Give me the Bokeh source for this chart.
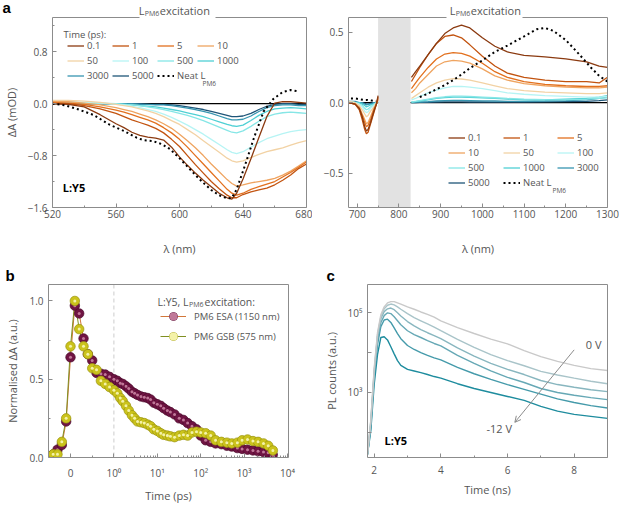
import numpy as np
from bokeh.plotting import figure
from bokeh.layouts import row, column
from bokeh.models import (Range1d, FixedTicker, LinearAxis, Label, Legend, LegendItem,
                          Span, BoxAnnotation, Arrow, OpenHead)
from bokeh.embed import file_html
from bokeh.resources import INLINE

FONT = "Open Sans"
TXT = "#555555"
FRAME = "#8c8c8c"

# ---------------- panel a (left): visible TA spectra ----------------
vis_wl = [520, 530, 540, 550, 560, 565, 570, 575, 580, 585, 590, 595, 600, 605, 610,
          615, 620, 625, 630, 633, 636, 640, 645, 650, 655, 660, 665, 670, 675, 680]
vis_0p1 = [0.00, -0.01, -0.05, -0.17, -0.31, -0.37, -0.44, -0.49, -0.515, -0.53, -0.56, -0.67, -0.82, -0.95, -1.07,
           -1.18, -1.28, -1.38, -1.45, -1.47, -1.38, -1.16, -0.85, -0.52, -0.20, 0.01, 0.03, 0.03, 0.02, 0.01]
vis_1 = [0.00, 0.00, -0.03, -0.08, -0.15, -0.20, -0.25, -0.29, -0.33, -0.38, -0.45, -0.55, -0.66, -0.80, -0.94,
         -1.07, -1.20, -1.31, -1.41, -1.45, -1.45, -1.40, -1.36, -1.33, -1.30, -1.25, -1.18, -1.10, -1.00, -0.93]
vis_5 = [0.02, 0.01, -0.01, -0.05, -0.10, -0.13, -0.17, -0.21, -0.25, -0.30, -0.37, -0.45, -0.55, -0.67, -0.80,
         -0.93, -1.06, -1.19, -1.32, -1.38, -1.41, -1.38, -1.32, -1.28, -1.24, -1.20, -1.13, -1.06, -0.98, -0.90]
vis_10 = [0.03, 0.03, 0.01, -0.02, -0.06, -0.09, -0.12, -0.16, -0.20, -0.25, -0.31, -0.38, -0.47, -0.57, -0.68,
          -0.80, -0.93, -1.05, -1.17, -1.23, -1.27, -1.25, -1.22, -1.20, -1.18, -1.15, -1.10, -1.04, -0.96, -0.88]
vis_50 = [0.05, 0.05, 0.04, 0.02, -0.01, -0.03, -0.05, -0.08, -0.11, -0.15, -0.20, -0.26, -0.32, -0.40, -0.48,
          -0.57, -0.66, -0.75, -0.84, -0.88, -0.90, -0.88, -0.83, -0.78, -0.74, -0.71, -0.68, -0.64, -0.60, -0.57]
vis_100 = [0.03, 0.03, 0.02, 0.01, -0.01, -0.02, -0.04, -0.06, -0.09, -0.12, -0.16, -0.21, -0.27, -0.33, -0.40,
           -0.47, -0.55, -0.63, -0.71, -0.75, -0.77, -0.74, -0.67, -0.60, -0.54, -0.50, -0.46, -0.43, -0.41, -0.40]
vis_500 = [0.02, 0.02, 0.01, 0.01, 0.00, -0.01, -0.02, -0.03, -0.05, -0.07, -0.09, -0.12, -0.15, -0.18, -0.22,
           -0.26, -0.31, -0.36, -0.41, -0.44, -0.45, -0.42, -0.35, -0.27, -0.20, -0.16, -0.14, -0.13, -0.14, -0.15]
vis_1000 = [0.01, 0.01, 0.01, 0.00, 0.00, -0.01, -0.02, -0.03, -0.04, -0.05, -0.07, -0.09, -0.11, -0.14, -0.17,
            -0.20, -0.24, -0.28, -0.32, -0.34, -0.35, -0.33, -0.26, -0.18, -0.12, -0.08, -0.07, -0.06, -0.07, -0.08]
vis_3000 = [0.00, 0.01, 0.00, 0.00, 0.00, 0.00, 0.00, -0.01, -0.01, -0.02, -0.02, -0.03, -0.05, -0.07, -0.09,
            -0.12, -0.15, -0.19, -0.23, -0.25, -0.25, -0.24, -0.19, -0.12, -0.06, -0.03, -0.02, -0.02, -0.03, -0.03]
vis_5000 = [0.00, 0.00, 0.00, 0.00, 0.00, 0.00, 0.00, 0.00, -0.01, -0.01, -0.01, -0.02, -0.03, -0.05, -0.07,
            -0.09, -0.12, -0.15, -0.18, -0.20, -0.20, -0.19, -0.15, -0.09, -0.04, -0.01, 0.00, 0.00, -0.01, -0.01]
vis_neat_wl = [520, 528, 536, 546, 556, 565, 573, 577, 583, 589, 594, 600, 605, 610, 615, 620,
               625, 630, 633, 636, 641, 647, 653, 659, 665, 670, 675]
vis_neat = [0.0, -0.025, -0.086, -0.175, -0.325, -0.42, -0.525, -0.56, -0.575, -0.625, -0.70, -0.84, -0.97,
            -1.10, -1.22, -1.33, -1.41, -1.46, -1.45, -1.32, -0.97, -0.52, -0.12, 0.07, 0.18, 0.21, 0.19]

# ---------------- panel a (right): NIR TA spectra ----------------
nir_wl_short = [680, 695, 705, 712, 718, 722, 726, 732, 740, 746, 750]
nir_wl_long = [830, 840, 850, 870, 890, 910, 930, 950, 970, 1000, 1030, 1060, 1100, 1150, 1200, 1250, 1280, 1300]
nir_0p1_s = [0.0, -0.01, -0.04, -0.10, -0.17, -0.20, -0.19, -0.14, -0.06, -0.01, 0.05]
nir_0p1_l = [0.18, 0.22, 0.26, 0.34, 0.42, 0.49, 0.53, 0.55, 0.53, 0.46, 0.40, 0.36, 0.335, 0.325, 0.31, 0.29, 0.26, 0.25]
nir_1_s = [0.0, -0.01, -0.05, -0.12, -0.19, -0.22, -0.21, -0.15, -0.07, -0.01, 0.04]
nir_1_l = [0.15, 0.20, 0.25, 0.34, 0.42, 0.47, 0.48, 0.46, 0.41, 0.33, 0.26, 0.21, 0.18, 0.16, 0.15, 0.15, 0.14, 0.18]
nir_5_s = [0.0, -0.01, -0.04, -0.09, -0.14, -0.17, -0.16, -0.12, -0.05, -0.01, 0.03]
nir_5_l = [0.10, 0.14, 0.18, 0.25, 0.31, 0.345, 0.355, 0.35, 0.33, 0.28, 0.22, 0.18, 0.15, 0.13, 0.12, 0.115, 0.115, 0.12]
nir_10_s = [0.0, -0.01, -0.03, -0.08, -0.12, -0.15, -0.14, -0.10, -0.04, -0.01, 0.02]
nir_10_l = [0.07, 0.10, 0.14, 0.20, 0.26, 0.29, 0.30, 0.295, 0.28, 0.24, 0.19, 0.16, 0.135, 0.12, 0.11, 0.105, 0.105, 0.11]
nir_50_s = [0.01, 0.0, -0.02, -0.05, -0.08, -0.10, -0.09, -0.06, -0.03, 0.0, 0.01]
nir_50_l = [0.03, 0.05, 0.07, 0.11, 0.14, 0.16, 0.17, 0.168, 0.16, 0.14, 0.12, 0.10, 0.085, 0.075, 0.07, 0.065, 0.065, 0.07]
nir_100_s = [0.01, 0.0, -0.01, -0.03, -0.06, -0.07, -0.065, -0.04, -0.02, 0.0, 0.01]
nir_100_l = [0.02, 0.03, 0.045, 0.07, 0.09, 0.105, 0.115, 0.115, 0.11, 0.10, 0.085, 0.07, 0.06, 0.05, 0.045, 0.04, 0.04, 0.045]
nir_500_s = [0.01, 0.0, -0.01, -0.02, -0.04, -0.05, -0.045, -0.03, -0.01, 0.0, 0.0]
nir_500_l = [0.005, 0.01, 0.015, 0.025, 0.035, 0.042, 0.046, 0.046, 0.044, 0.04, 0.035, 0.03, 0.025, 0.022, 0.02, 0.025, 0.03, 0.035]
nir_1000_s = [0.01, 0.0, 0.0, -0.01, -0.02, -0.03, -0.025, -0.015, -0.01, 0.0, 0.0]
nir_1000_l = [0.005, 0.008, 0.012, 0.02, 0.03, 0.036, 0.04, 0.04, 0.038, 0.034, 0.03, 0.025, 0.02, 0.02, 0.025, 0.03, 0.04, 0.05]
nir_3000_s = [0.01, 0.01, 0.0, 0.0, -0.01, -0.015, -0.01, -0.01, 0.0, 0.0, 0.0]
nir_3000_l = [0.0, 0.003, 0.005, 0.008, 0.012, 0.015, 0.016, 0.016, 0.015, 0.013, 0.012, 0.01, 0.01, 0.012, 0.015, 0.02, 0.03, 0.04]
nir_5000_s = [0.0, 0.0, 0.0, 0.0, -0.005, -0.01, -0.01, -0.005, 0.0, 0.0, 0.0]
nir_5000_l = [0.0, 0.0, 0.002, 0.003, 0.005, 0.006, 0.006, 0.006, 0.005, 0.005, 0.004, 0.004, 0.005, 0.006, 0.008, 0.01, 0.015, 0.02]
nir_neat_wl_short = [685, 695, 705, 715, 725, 735, 745]
nir_neat_short = [0.03, 0.03, 0.025, 0.02, 0.02, 0.015, 0.01]
nir_neat_wl_long = [850, 870, 890, 910, 930, 950, 970, 1000, 1030, 1060, 1100, 1130, 1150, 1170, 1200, 1230, 1260, 1280, 1300]
nir_neat_long = [0.04, 0.065, 0.095, 0.125, 0.16, 0.20, 0.245, 0.30, 0.36, 0.405, 0.47, 0.52, 0.53, 0.51, 0.444,
                 0.35, 0.25, 0.19, 0.15]
masked_band = [750, 828]

delay_labels = ["0.1", "1", "5", "10", "50", "100", "500", "1000", "3000", "5000"]
delay_colors = ["#8b3a10", "#c2530f", "#e2701e", "#efa460", "#f2d2a4",
                "#b6f4f4", "#86e6e6", "#4fd0d4", "#3795b0", "#1e5578"]

# ---------------- panel b: kinetics ----------------
kin_t = [-0.4, -0.3, -0.2, -0.1, 0.0, 0.1, 0.2, 0.3, 0.4, 0.5, 0.6, 0.7, 0.8, 0.9,
         1.0, 1.2, 1.4, 1.6, 1.9, 2.2, 2.6, 3.0, 3.5, 4.2,
         5.0, 6.0, 7.0, 8.3, 10, 12, 14, 17, 20, 25,
         32, 40, 50, 63, 80, 100, 130, 170, 220, 300,
         400, 520, 700, 900, 1200, 1600, 2100, 2800, 3600, 4600]
esa_1150 = [0.02, 0.05, 0.08, 0.23, 0.64, 0.97, 0.92, 0.76, 0.66, 0.62, 0.54, 0.535, 0.53, 0.515,
            0.50, 0.49, 0.475, 0.47, 0.455, 0.44, 0.42, 0.41, 0.40, 0.39,
            0.385, 0.38, 0.37, 0.35, 0.34, 0.33, 0.315, 0.30, 0.29, 0.275,
            0.25, 0.24, 0.22, 0.20, 0.18, 0.14, 0.11, 0.10, 0.09, 0.085,
            0.075, 0.07, 0.06, 0.055, 0.05, 0.045, 0.04, 0.035, 0.03, 0.015]
gsb_575 = [0.02, 0.02, 0.10, 0.25, 0.71, 1.00, 0.82, 0.71, 0.66, 0.57, 0.56, 0.49, 0.47, 0.45,
           0.43, 0.41, 0.38, 0.36, 0.33, 0.30, 0.27, 0.25, 0.23, 0.225,
           0.22, 0.21, 0.20, 0.18, 0.17, 0.155, 0.145, 0.14, 0.135, 0.13,
           0.14, 0.145, 0.14, 0.16, 0.165, 0.16, 0.155, 0.14, 0.11, 0.10,
           0.095, 0.09, 0.095, 0.11, 0.115, 0.105, 0.10, 0.09, 0.075, 0.045]

# ---------------- panel c: TRPL vs bias ----------------
pl_t = [1.8, 1.9, 2.0, 2.1, 2.2, 2.3, 2.4, 2.5, 2.6, 2.7, 2.8, 3.0, 3.2, 3.4, 3.6, 3.8, 4.0,
        4.5, 5.0, 5.5, 6.0, 6.5, 7.0, 7.5, 8.0, 8.5, 9.0]
pl_0V = [28, 200, 3980, 31600, 89100, 141000, 178000, 191000, 191000, 178000, 166000, 141000, 123000,
         105000, 91200, 77600, 63100, 42700, 30200, 21900, 16600, 11200, 7940, 6030, 4790, 3980, 3550]
pl_b2 = [28, 200, 3550, 28200, 79400, 126000, 155000, 166000, 158000, 141000, 123000, 95500, 75900,
         63100, 52500, 43700, 35500, 21400, 13500, 8910, 6310, 4680, 3390, 2750, 2290, 1910, 1660]
pl_b3 = [28, 178, 3160, 25100, 70800, 107000, 126000, 132000, 120000, 100000, 83200, 60300, 46800,
         38000, 31600, 26900, 22400, 13200, 8130, 5370, 3800, 2820, 2000, 1580, 1350, 1170, 1050]
pl_b4 = [28, 158, 2820, 20000, 56200, 85100, 100000, 95500, 79400, 63100, 50100, 35500, 28200,
         24000, 20000, 17000, 14800, 8510, 5370, 3470, 2400, 1780, 1260, 1000, 851, 741, 661]
pl_b5 = [28, 141, 2510, 15800, 44700, 66100, 69200, 57500, 41700, 30200, 22400, 15100, 12000,
         10000, 8510, 7410, 6610, 4270, 2950, 2140, 1580, 1200, 912, 692, 562, 468, 407]
pl_m12V = [28, 112, 1580, 8910, 24000, 25100, 20900, 14100, 9330, 6310, 4790, 3800, 3470,
           3160, 2820, 2510, 2290, 1660, 1260, 1000, 794, 631, 447, 339, 282, 251, 224]
pl_colors = ["#c9c9c9", "#a9c4c9", "#88b6bf", "#66a8b5", "#449aaa", "#1e8c9e"]


# ---------------- helpers ----------------
def frame_axis(bounds=None):
    ax = LinearAxis(ticker=FixedTicker(ticks=[]), axis_line_color=FRAME,
                    major_tick_line_color=None, minor_tick_line_color=None,
                    major_tick_in=0, major_tick_out=0, minor_tick_in=0, minor_tick_out=0,
                    major_label_standoff=0, axis_label_standoff=0)
    if bounds is not None:
        ax.bounds = bounds
    return ax


def make_fig(w, h, xr, yr, bl, br, bt, bb, y_type="linear", top_gap=None):
    p = figure(width=w, height=h, x_range=Range1d(*xr), y_range=Range1d(*yr),
               y_axis_type=y_type, output_backend="svg", toolbar_location=None,
               min_border_left=bl, min_border_right=br, min_border_top=bt,
               min_border_bottom=bb, outline_line_color=None,
               background_fill_color="white", border_fill_color="white")
    p.xgrid.visible = False
    p.ygrid.visible = False
    if top_gap is None:
        p.add_layout(frame_axis(), "above")
    else:
        p.add_layout(frame_axis((xr[0], top_gap[0])), "above")
        p.add_layout(frame_axis((top_gap[1], xr[1])), "above")
    p.add_layout(frame_axis(), "right")
    return p


def header(w, h):
    # plain strip (frame == whole canvas, y downwards) that carries panel letters and titles
    p = figure(width=w, height=h, x_range=Range1d(0, w), y_range=Range1d(h, 0),
               output_backend="svg", toolbar_location=None, min_border=0,
               x_axis_location=None, y_axis_location=None, outline_line_color=None,
               background_fill_color="white", border_fill_color="white")
    p.xgrid.visible = False
    p.ygrid.visible = False
    return p


def style(ax, label, ticks, minor, overrides=None, label_standoff=6, tick_standoff=5):
    ax.ticker = FixedTicker(ticks=ticks, minor_ticks=minor)
    if overrides:
        ax.major_label_overrides = overrides
    if label:
        ax.axis_label = label
    ax.axis_line_color = FRAME
    ax.major_tick_line_color = FRAME
    ax.minor_tick_line_color = FRAME
    ax.major_tick_in = 4
    ax.major_tick_out = 0
    ax.minor_tick_in = 2
    ax.minor_tick_out = 0
    ax.major_label_standoff = tick_standoff
    ax.major_label_text_font = FONT
    ax.major_label_text_font_size = "10px"
    ax.major_label_text_color = TXT
    ax.axis_label_text_font = FONT
    ax.axis_label_text_font_size = "11px"
    ax.axis_label_text_font_style = "normal"
    ax.axis_label_text_color = TXT
    ax.axis_label_standoff = label_standoff


def txt(p, x, y, text, size="11px", color=TXT, fstyle="normal", align="left",
        units="data", font=FONT):
    p.add_layout(Label(x=x, y=y, x_units=units, y_units=units, text=text, text_font=font,
                       text_font_size=size, text_color=color, text_font_style=fstyle,
                       text_align=align, text_baseline="middle"))


def col_legend(p, items, x_off, top_off, row_h, frame_h, gw=17, standoff=3, size="9.5px"):
    vy = frame_h - top_off - len(items) * row_h
    lg = Legend(items=[LegendItem(label=l, renderers=r) for l, r in items],
                location=(x_off, vy), orientation="vertical",
                glyph_width=gw, glyph_height=row_h, label_height=row_h,
                spacing=0, padding=0, margin=0, label_standoff=standoff,
                label_text_font=FONT, label_text_font_size=size, label_text_color=TXT,
                background_fill_alpha=0, border_line_alpha=0)
    p.add_layout(lg)


# ================= header strip for row 1 =================
h1 = header(619, 16)
txt(h1, 2, 7, "a", size="15px", color="black", fstyle="bold", font="Liberation Sans")
for xL in (138.3, 449.3):
    txt(h1, xL, 9.5, "L", size="11px")
    txt(h1, xL + 6.0, 12.5, "PM6", size="7px")
    txt(h1, xL + 21.0, 9.5, "excitation", size="11px")

# ================= panel a, left =================
FH1 = 194
fa1 = make_fig(312, 242, (520, 680), (-1.6, 1.328), 48, 6, 1, 47, top_gap=(574.6, 622.5))
style(fa1.below[0], "λ (nm)", [520, 560, 600, 640, 680], [540, 580, 620, 660],
      label_standoff=20, tick_standoff=2)
style(fa1.left[0], "ΔA (mOD)", [-1.6, -0.8, 0, 0.8], [-1.2, -0.4, 0.4, 1.2],
      {-1.6: "−1.6", -0.8: "−0.8", 0: "0.0", 0.8: "0.8"})
fa1.add_layout(Span(location=0, dimension="width", line_color="black", line_width=1.2, level="underlay"))
vis_series = [vis_0p1, vis_1, vis_5, vis_10, vis_50, vis_100, vis_500, vis_1000, vis_3000, vis_5000]
vr = {}
for lab, vals, col in reversed(list(zip(delay_labels, vis_series, delay_colors))):
    vr[lab] = fa1.line(vis_wl, vals, line_color=col, line_width=1.3)
vr["neat"] = fa1.line(vis_neat_wl, vis_neat, line_color="black", line_width=2, line_dash="2 3")
col_legend(fa1, [("0.1", [vr["0.1"]]), ("50", [vr["50"]]), ("3000", [vr["3000"]])], 15, 25, 15, FH1)
col_legend(fa1, [("1", [vr["1"]]), ("100", [vr["100"]]), ("5000", [vr["5000"]])], 60, 25, 15, FH1)
col_legend(fa1, [("5", [vr["5"]]), ("500", [vr["500"]]), ("Neat L", [vr["neat"]])], 105, 25, 15, FH1)
col_legend(fa1, [("10", [vr["10"]]), ("1000", [vr["1000"]])], 145, 25, 15, FH1)
txt(fa1, 63, 18, "Time (ps):", size="9.5px", units="canvas")
txt(fa1, 202, 67, "PM6", size="6.5px", units="canvas")
txt(fa1, 533.5, -1.29, "L:Y5", size="11px", color="black", fstyle="bold", align="center")

# ================= panel a, right =================
fa2 = make_fig(307, 242, (679.1, 1300), (-0.743, 0.604), 36, 12, 1, 47, top_gap=(914.3, 1096.7))
style(fa2.below[0], "λ (nm)", [700, 800, 900, 1000, 1100, 1200, 1300],
      [750, 850, 950, 1050, 1150, 1250], label_standoff=20, tick_standoff=2)
style(fa2.left[0], None, [-0.5, 0, 0.5], [-0.25, 0.25],
      {-0.5: "−0.5", 0: "0.0", 0.5: "0.5"})
fa2.add_layout(Span(location=0, dimension="width", line_color="black", line_width=1.2, level="underlay"))
fa2.add_layout(BoxAnnotation(left=masked_band[0], right=masked_band[1], fill_color="#e2e2e2",
                             fill_alpha=1, line_color=None, level="underlay"))
nir_short = [nir_0p1_s, nir_1_s, nir_5_s, nir_10_s, nir_50_s, nir_100_s, nir_500_s, nir_1000_s, nir_3000_s, nir_5000_s]
nir_long = [nir_0p1_l, nir_1_l, nir_5_l, nir_10_l, nir_50_l, nir_100_l, nir_500_l, nir_1000_l, nir_3000_l, nir_5000_l]
nx = np.array(nir_wl_short + [np.nan] + nir_wl_long, dtype=float)
nr = {}
for lab, s, l, col in reversed(list(zip(delay_labels, nir_short, nir_long, delay_colors))):
    ny = np.array(s + [np.nan] + l, dtype=float)
    nr[lab] = fa2.line(nx, ny, line_color=col, line_width=1.3)
nnx = np.array(nir_neat_wl_short + [np.nan] + nir_neat_wl_long, dtype=float)
nny = np.array(nir_neat_short + [np.nan] + nir_neat_long, dtype=float)
nr["neat"] = fa2.line(nnx, nny, line_color="black", line_width=2, line_dash="2 3")
col_legend(fa2, [("0.1", [nr["0.1"]]), ("10", [nr["10"]]), ("500", [nr["500"]]), ("5000", [nr["5000"]])],
           100, 117, 15, FH1)
col_legend(fa2, [("1", [nr["1"]]), ("50", [nr["50"]]), ("1000", [nr["1000"]]), ("Neat L", [nr["neat"]])],
           155, 117, 15, FH1)
col_legend(fa2, [("5", [nr["5"]]), ("100", [nr["100"]]), ("3000", [nr["3000"]])],
           209, 117, 15, FH1)
txt(fa2, 240, 173.5, "PM6", size="6.5px", units="canvas")

# ================= header strip for row 2 =================
h2 = header(619, 25)
txt(h2, 5, 17, "b", size="15px", color="black", fstyle="bold", font="Liberation Sans")
txt(h2, 326, 17, "c", size="15px", color="black", fstyle="bold", font="Liberation Sans")


# ================= panel b =================
def to_axis(t):
    t = np.asarray(t, dtype=float)
    return np.where(t < 1, t, 1 + np.log10(np.maximum(t, 1e-12)))


fb = make_fig(318, 222, (-0.507, 5.023), (0, 1.105), 48, 30, 1, 42)
b_minor = [0.5] + [1 + d + float(np.log10(k)) for d in range(4) for k in range(2, 10)]
style(fb.below[0], "Time (ps)", [0, 1, 2, 3, 4, 5], b_minor,
      {0: "0", 1: "10⁰", 2: "10¹", 3: "10²", 4: "10³", 5: "10⁴"}, label_standoff=5, tick_standoff=8)
style(fb.left[0], "Normalised ΔA (a.u.)", [0, 0.5, 1.0], [0.25, 0.75],
      {0: "0.0", 0.5: "0.5", 1: "1.0"})
fb.add_layout(Span(location=1, dimension="height", line_color="#cccccc", line_width=1,
                   line_dash="4 3", level="underlay"))
u = to_axis(kin_t)
esa_l = fb.line(u, esa_1150, line_color="#d2773a", line_width=1)
gsb_l = fb.line(u, gsb_575, line_color="#7f8f22", line_width=1)
esa_o = fb.scatter(u, esa_1150, size=9.5, fill_color="#701443", line_color="#4a0a2b", line_width=0.7)
esa_i = fb.scatter(u, esa_1150, size=3, fill_color="#c07898", line_color=None)
gsb_o = fb.scatter(u, gsb_575, size=9.5, fill_color="#cbc31c", line_color="#9a940f", line_width=0.7)
gsb_i = fb.scatter(u, gsb_575, size=3, fill_color="#f4f2a8", line_color=None)
col_legend(fb, [("PM6 ESA (1150 nm)", [esa_l, esa_o, esa_i]), ("PM6 GSB (575 nm)", [gsb_l, gsb_o, gsb_i])],
           112, 28, 20, 179, gw=26, standoff=8, size="9.5px")
txt(fb, 157, 18, "L:Y5, L", size="10.5px", units="canvas")
txt(fb, 188.5, 21, "PM6", size="7px", units="canvas")
txt(fb, 204, 18, "excitation:", size="10.5px", units="canvas")

# ================= panel c =================
fc = make_fig(301, 222, (1.8, 9.0), (23.3, 5.14e5), 49, 12, 1, 42, y_type="log")
style(fc.below[0], "Time (ns)", [2, 4, 6, 8], [3, 5, 7, 9], label_standoff=5, tick_standoff=8)
style(fc.left[0], "PL counts (a.u.)", [100, 1000, 10000, 100000], [],
      {100: "", 1000: "10³", 10000: "", 100000: "10⁵"})
for vals, col in reversed(list(zip([pl_0V, pl_b2, pl_b3, pl_b4, pl_b5, pl_m12V], pl_colors))):
    fc.line(pl_t, vals, line_color=col, line_width=1.4)
fc.add_layout(Arrow(x_start=8.0, y_start=11750, x_end=6.22, y_end=178,
                    line_color="#8c8c8c", line_width=1,
                    end=OpenHead(size=6, line_color="#8c8c8c", line_width=1)))
txt(fc, 8.35, 15850, "0 V", size="11px", align="left")
txt(fc, 5.75, 123, "-12 V", size="11px", align="center")
txt(fc, 2.65, 63, "L:Y5", size="11px", color="black", fstyle="bold", align="center")

layout = column(h1, row(fa1, fa2), h2, row(fb, fc))
open("out.html", "w").write(file_html(layout, INLINE, title="chart"))
